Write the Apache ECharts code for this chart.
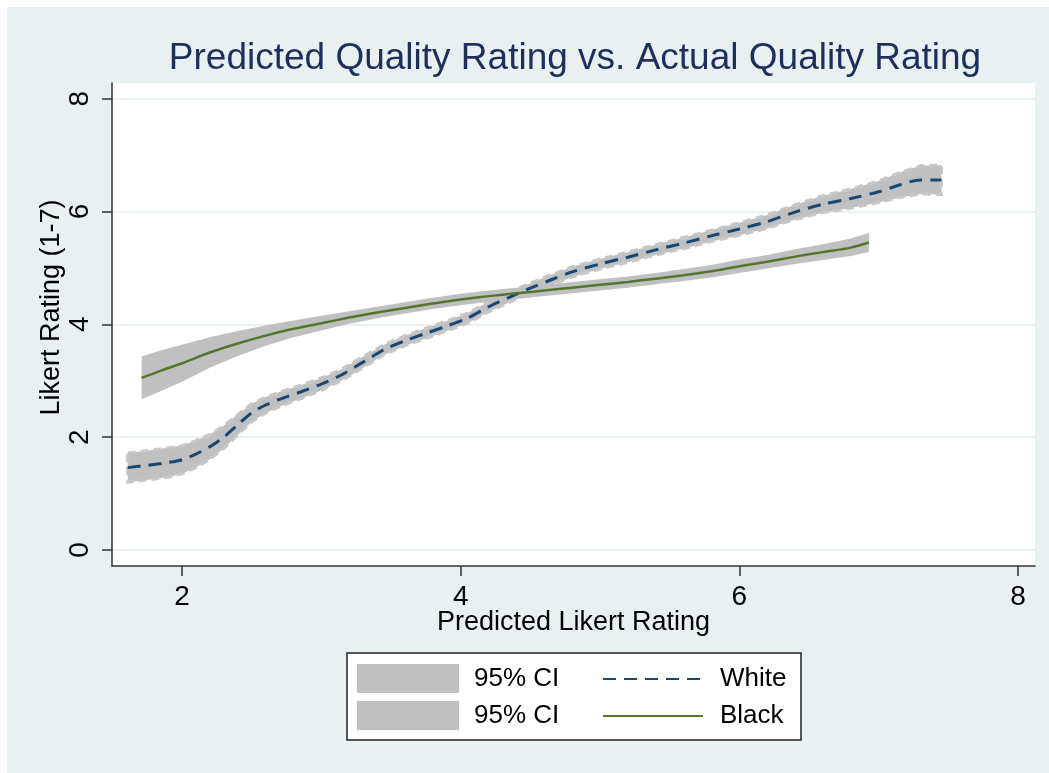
<!DOCTYPE html>
<html>
<head>
<meta charset="utf-8">
<script src="https://cdn.jsdelivr.net/npm/echarts@6/dist/echarts.min.js"></script>
<style>
  html, body { margin: 0; padding: 0; background: #ffffff; }
  #wrap { position: relative; width: 1049px; height: 773px; }
  #bg { position: absolute; left: 7px; top: 7px; right: 0; bottom: 0; background: #e8f0f2; }
  #chart { position: absolute; left: 0; top: 0; width: 1049px; height: 773px; }
</style>
</head>
<body>
<div id="wrap">
  <div id="bg"></div>
  <div id="chart"></div>
</div>
<script>
// Smoothed fit for White raters: predicted rating (x) vs. actual rating (y), with 95% CI
const whiteX = [1.61, 1.75, 1.90, 2.00, 2.10, 2.20, 2.30, 2.40, 2.50, 2.60, 2.70, 2.85, 3.00, 3.15, 3.30, 3.45, 3.60, 3.75, 3.90, 4.05, 4.20, 4.35, 4.50, 4.65, 4.80, 5.00, 5.20, 5.40, 5.60, 5.80, 6.00, 6.20, 6.40, 6.60, 6.80, 7.00, 7.15, 7.30, 7.45];
const whiteY = [1.46, 1.50, 1.55, 1.60, 1.70, 1.83, 2.00, 2.22, 2.43, 2.57, 2.67, 2.80, 2.94, 3.11, 3.33, 3.55, 3.71, 3.84, 3.97, 4.11, 4.31, 4.48, 4.64, 4.79, 4.93, 5.07, 5.19, 5.32, 5.44, 5.57, 5.69, 5.82, 5.99, 6.13, 6.23, 6.35, 6.47, 6.56, 6.56];
const whiteUpper = [1.72, 1.76, 1.81, 1.85, 1.94, 2.05, 2.20, 2.40, 2.59, 2.71, 2.80, 2.92, 3.05, 3.21, 3.43, 3.64, 3.80, 3.93, 4.06, 4.20, 4.40, 4.57, 4.73, 4.88, 5.02, 5.16, 5.28, 5.41, 5.54, 5.67, 5.80, 5.94, 6.12, 6.28, 6.40, 6.54, 6.69, 6.81, 6.82];
const whiteLower = [1.20, 1.24, 1.29, 1.35, 1.46, 1.61, 1.80, 2.04, 2.27, 2.43, 2.54, 2.68, 2.83, 3.01, 3.23, 3.46, 3.62, 3.75, 3.88, 4.02, 4.22, 4.39, 4.55, 4.70, 4.84, 4.98, 5.10, 5.23, 5.34, 5.47, 5.58, 5.70, 5.86, 5.98, 6.06, 6.16, 6.25, 6.31, 6.30];

// Smoothed fit for Black raters, with 95% CI
const blackX = [1.71, 1.85, 2.00, 2.20, 2.40, 2.60, 2.80, 3.00, 3.20, 3.40, 3.60, 3.80, 4.00, 4.20, 4.40, 4.60, 4.80, 5.00, 5.20, 5.40, 5.60, 5.80, 6.00, 6.20, 6.40, 6.60, 6.80, 6.93];
const blackY = [3.05, 3.18, 3.31, 3.50, 3.66, 3.80, 3.92, 4.02, 4.12, 4.21, 4.29, 4.37, 4.44, 4.50, 4.55, 4.60, 4.65, 4.70, 4.75, 4.81, 4.87, 4.94, 5.03, 5.11, 5.20, 5.28, 5.36, 5.45];
const blackUpper = [3.43, 3.54, 3.64, 3.77, 3.88, 3.98, 4.07, 4.15, 4.23, 4.31, 4.39, 4.47, 4.54, 4.60, 4.65, 4.70, 4.75, 4.80, 4.85, 4.91, 4.98, 5.05, 5.15, 5.23, 5.33, 5.42, 5.52, 5.62];
const blackLower = [2.67, 2.82, 2.98, 3.23, 3.44, 3.62, 3.77, 3.89, 4.01, 4.11, 4.19, 4.27, 4.34, 4.40, 4.45, 4.50, 4.55, 4.60, 4.65, 4.71, 4.77, 4.83, 4.91, 4.99, 5.07, 5.14, 5.21, 5.28];

const xTicks = [2, 4, 6, 8];
const yTicks = [0, 2, 4, 6, 8];

const titleText = 'Predicted Quality Rating vs. Actual Quality Rating';
const xTitle = 'Predicted Likert Rating';
const yTitle = 'Likert Rating (1-7)';
const ciLabel = '95% CI';

const FONT = '"Liberation Sans", Arial, Helvetica, sans-serif';
const CI_GRAY = '#c0c0c0';
const BLUE = '#1a476f';
const GREEN = '#55752f';

const pairs = (xs, ys) => xs.map((x, i) => [x, ys[i]]);

// Confidence band drawn as one polygon: upper edge left→right, lower edge right→left
function bandRenderer(xs, lo, hi, outline) {
  return function (params, api) {
    const pts = [];
    for (let i = 0; i < xs.length; i++) pts.push(api.coord([xs[i], hi[i]]));
    for (let i = xs.length - 1; i >= 0; i--) pts.push(api.coord([xs[i], lo[i]]));
    const style = { fill: CI_GRAY };
    if (outline) {
      style.stroke = '#c7c7c7';
      style.lineWidth = 3;
      style.lineDash = [8, 5];
    }
    return { type: 'polygon', shape: { points: pts, smooth: 0 }, style: style };
  };
}

const chart = echarts.init(document.getElementById('chart'), null, { renderer: 'canvas' });

const axisText = { fontFamily: FONT, fontSize: 28, color: '#000' };
const axisNameText = { fontFamily: FONT, fontSize: 27, color: '#000' };

chart.setOption({
  backgroundColor: 'transparent',
  animation: false,
  title: {
    text: titleText,
    left: 575,
    top: 40,
    padding: 0,
    textAlign: 'center',
    textStyle: { fontFamily: FONT, fontSize: 37, fontWeight: 'normal', color: '#1f2f5c' }
  },
  grid: {
    left: 112, right: 14, top: 83, bottom: 207,
    show: true, backgroundColor: '#ffffff', borderWidth: 0
  },
  xAxis: {
    type: 'value',
    min: 1.4976, max: 8.122,
    name: xTitle,
    nameLocation: 'middle',
    nameGap: 43,
    nameMoveOverlap: false,
    nameTextStyle: axisNameText,
    axisLine: { show: true, onZero: false, lineStyle: { color: '#333', width: 1.5 } },
    axisTick: { show: true, length: 10, customValues: xTicks, lineStyle: { color: '#333', width: 1.5 } },
    axisLabel: { customValues: xTicks, margin: 17, ...axisText },
    splitLine: { show: false }
  },
  yAxis: {
    type: 'value',
    min: -0.284, max: 8.278,
    name: yTitle,
    nameLocation: 'middle',
    nameRotate: 90,
    nameGap: 47,
    nameMoveOverlap: false,
    nameTextStyle: { ...axisNameText, padding: [0, 0, 0, 34] },
    axisLine: { show: true, onZero: false, lineStyle: { color: '#333', width: 1.5 } },
    axisTick: { show: true, length: 10, customValues: yTicks, lineStyle: { color: '#333', width: 1.5 } },
    axisLabel: { customValues: yTicks, rotate: 90, margin: 18, ...axisText },
    splitLine: { show: true, lineStyle: { color: '#e3ecef', width: 1.5 } }
  },
  legend: [
    {
      data: [
        { name: 'ciWhite', icon: 'rect', itemStyle: { color: CI_GRAY } },
        { name: 'ciBlack', icon: 'rect', itemStyle: { color: CI_GRAY } }
      ],
      orient: 'vertical',
      left: 357, top: 664,
      padding: 0,
      itemWidth: 102, itemHeight: 29, itemGap: 8,
      selectedMode: false,
      formatter: () => ciLabel,
      textStyle: { fontFamily: FONT, fontSize: 26, color: '#000', padding: [0, 0, 0, 10] }
    },
    {
      data: ['White', 'Black'],
      orient: 'vertical',
      left: 602, top: 666,
      padding: 0,
      itemWidth: 100, itemHeight: 29, itemGap: 11,
      selectedMode: false,
      itemStyle: { opacity: 0 },
      textStyle: { fontFamily: FONT, fontSize: 26, color: '#000', padding: [0, 0, 0, 12] }
    }
  ],
  graphic: [
    {
      type: 'rect',
      z: -10,
      shape: { x: 347, y: 653, width: 454, height: 87 },
      style: { fill: '#ffffff', stroke: '#222', lineWidth: 1.5 }
    }
  ],
  series: [
    {
      name: 'ciWhite', type: 'custom',
      renderItem: bandRenderer(whiteX, whiteLower, whiteUpper, true),
      data: [[whiteX[0], whiteY[0]]],
      itemStyle: { color: CI_GRAY },
      silent: true
    },
    {
      name: 'White', type: 'line', smooth: 0.3, symbol: 'none',
      data: pairs(whiteX, whiteY),
      color: BLUE,
      lineStyle: { color: BLUE, width: 3, type: [13, 8] },
      silent: true
    },
    {
      name: 'ciBlack', type: 'custom',
      renderItem: bandRenderer(blackX, blackLower, blackUpper, false),
      data: [[blackX[0], blackY[0]]],
      itemStyle: { color: CI_GRAY },
      silent: true
    },
    {
      name: 'Black', type: 'line', smooth: 0.3, symbol: 'none',
      data: pairs(blackX, blackY),
      color: GREEN,
      lineStyle: { color: GREEN, width: 2.5, type: 'solid' },
      silent: true
    }
  ]
});
</script>
</body>
</html>
